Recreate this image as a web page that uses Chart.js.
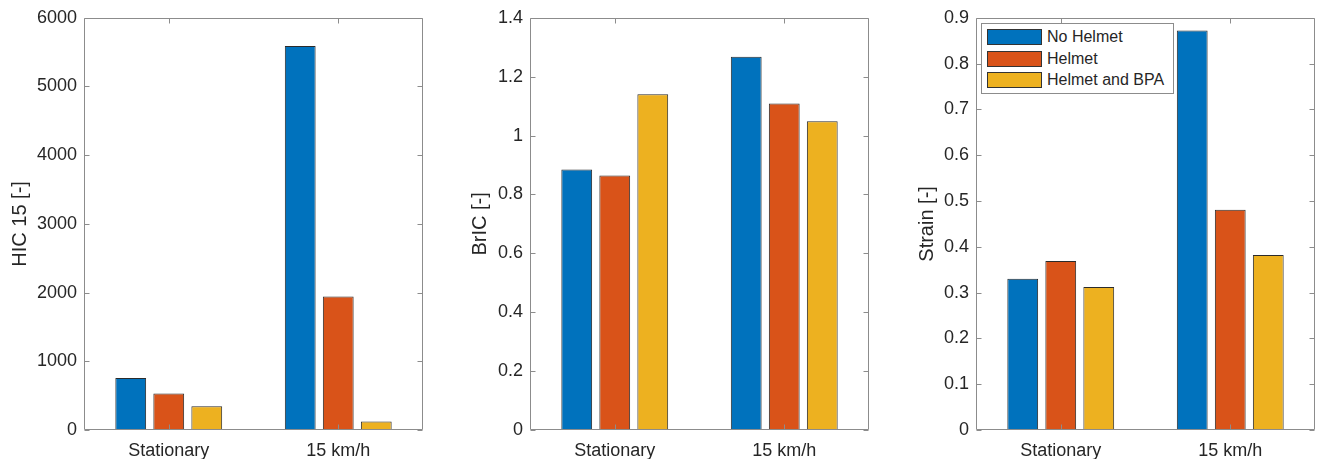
<!DOCTYPE html>
<html>
<head>
<meta charset="utf-8">
<script src="https://cdn.jsdelivr.net/npm/chart.js@4"></script>
<style>
  body { margin: 0; background: #fff; }
  .panel { position: absolute; top: 0; height: 459px; }
  #legend {
    position: absolute; left: 981px; top: 23px; width: 191px; height: 69px;
    border: 1px solid #8c8c8c; background: #fff;
    font-family: "Liberation Sans", Arial, sans-serif; font-size: 16px; color: #262626;
  }
  #legend .row { position: absolute; left: 5px; height: 16px; line-height: 16px; }
  #legend .sw { position: absolute; left: 0; top: 0; width: 53px; height: 14px; border: 1px solid #333; }
  #legend .tx { position: absolute; left: 60px; top: 0; white-space: nowrap; }
</style>
</head>
<body>
<div class="panel" style="left:0;width:440px"><canvas id="hic" width="440" height="459"></canvas></div>
<div class="panel" style="left:440px;width:440px"><canvas id="bric" width="440" height="459"></canvas></div>
<div class="panel" style="left:880px;width:437px"><canvas id="strain" width="437" height="459"></canvas></div>
<div id="legend"></div>
<script>
// data
var categories = ['Stationary', '15 km/h'];
var seriesNames = ['No Helmet', 'Helmet', 'Helmet and BPA'];
var colors = ['#0072BD', '#D95319', '#EDB120'];

var hicNoHelmet = [756, 5590];
var hicHelmet = [530, 1942];
var hicBPA = [347, 125];

var bricNoHelmet = [0.885, 1.268];
var bricHelmet = [0.864, 1.109];
var bricBPA = [1.140, 1.049];

var strainNoHelmet = [0.330, 0.872];
var strainHelmet = [0.369, 0.481];
var strainBPA = [0.312, 0.382];

var hicTicks = ['0', '1000', '2000', '3000', '4000', '5000', '6000'];
var bricTicks = ['0', '0.2', '0.4', '0.6', '0.8', '1', '1.2', '1.4'];
var strainTicks = ['0', '0.1', '0.2', '0.3', '0.4', '0.5', '0.6', '0.7', '0.8', '0.9'];

var axisColor = '#8c8c8c';
var textColor = '#262626';
var font = 'Liberation Sans';

// matlab style box with inward ticks
var frame = {
    id: 'frame',
    afterDatasetsDraw: function(chart) {
        var ctx = chart.ctx, a = chart.chartArea;
        var L = Math.round(a.left) + 0.5, R = Math.round(a.right) - 0.5;
        var T = Math.round(a.top) + 0.5, B = Math.round(a.bottom) - 0.5;
        var len = 5;
        ctx.save();
        ctx.strokeStyle = axisColor;
        ctx.lineWidth = 1;
        ctx.beginPath();
        ctx.rect(L, T, R - L, B - T);
        var ys = chart.scales.y;
        ys.ticks.forEach(function(t, i) {
            var y = Math.round(ys.getPixelForTick(i)) + 0.5;
            ctx.moveTo(L, y); ctx.lineTo(L + len, y);
            ctx.moveTo(R, y); ctx.lineTo(R - len, y);
        });
        var xs = chart.scales.x;
        xs.ticks.forEach(function(t, i) {
            var x = Math.round(xs.getPixelForTick(i)) + 0.5;
            ctx.moveTo(x, B); ctx.lineTo(x, B - len);
            ctx.moveTo(x, T); ctx.lineTo(x, T + len);
        });
        ctx.stroke();
        ctx.restore();
    }
};

function makeChart(id, values, yTitle, yMax, yStep, tickLabels, pad, yWidth) {
    var datasets = values.map(function(v, k) {
        return {
            label: seriesNames[k],
            data: v,
            backgroundColor: colors[k],
            borderColor: '#2b2b2b',
            borderWidth: 1,
            borderSkipped: false,
            categoryPercentage: 0.673,
            barPercentage: 0.81
        };
    });
    return new Chart(document.getElementById(id), {
        type: 'bar',
        data: { labels: categories, datasets: datasets },
        options: {
            responsive: false,
            animation: false,
            layout: { padding: { left: pad.left, right: pad.right, top: 15, bottom: 0 } },
            plugins: { legend: { display: false }, tooltip: { enabled: false } },
            scales: {
                x: {
                    grid: { display: false },
                    border: { display: false },
                    ticks: { color: textColor, font: { family: font, size: 18 }, padding: 2 },
                    afterFit: function(s) { s.height = 29; }
                },
                y: {
                    min: 0,
                    max: yMax,
                    grid: { display: false, drawTicks: false },
                    border: { display: false },
                    ticks: {
                        stepSize: yStep,
                        autoSkip: false,
                        color: textColor,
                        font: { family: font, size: 18 },
                        padding: 7,
                        callback: function(v, i) { return tickLabels[i]; }
                    },
                    title: {
                        display: true,
                        text: yTitle,
                        color: textColor,
                        font: { family: font, size: 20 },
                        padding: { top: 4, bottom: 0 }
                    },
                    afterFit: function(s) { s.width = yWidth; }
                }
            }
        },
        plugins: [frame]
    });
}

makeChart('hic', [hicNoHelmet, hicHelmet, hicBPA], 'HIC 15 [-]', 6000, 1000, hicTicks, { left: 4, right: 17 }, 80);
makeChart('bric', [bricNoHelmet, bricHelmet, bricBPA], 'BrIC [-]', 1.4, 0.2, bricTicks, { left: 24, right: 11 }, 66);
makeChart('strain', [strainNoHelmet, strainHelmet, strainBPA], 'Strain [-]', 0.9, 0.1, strainTicks, { left: 31, right: 2 }, 65);

// legend box drawn like matlab's, inside the third axes
var lg = document.getElementById('legend');
seriesNames.forEach(function(name, k) {
    var row = document.createElement('div');
    row.className = 'row';
    row.style.top = (5 + k * 21.7) + 'px';
    row.innerHTML = '<div class="sw" style="background:' + colors[k] + '"></div><div class="tx">' + name + '</div>';
    lg.appendChild(row);
});
</script>
</body>
</html>
